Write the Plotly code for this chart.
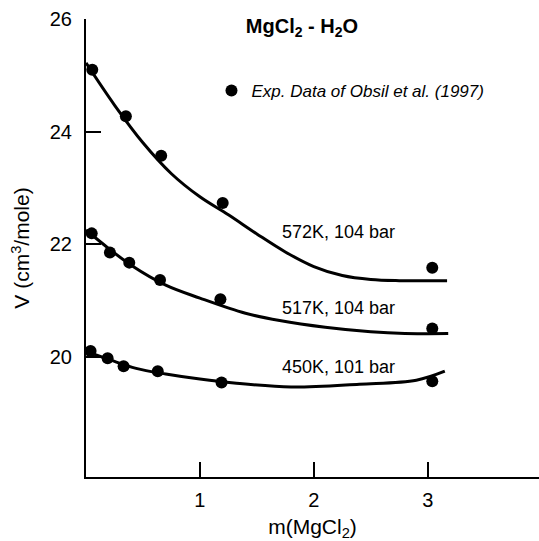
import plotly.graph_objects as go

# Experimental data (Obsil et al. 1997)
m_572 = [0.055, 0.35, 0.66, 1.20, 3.04]
v_572 = [25.10, 24.27, 23.57, 22.73, 21.58]
m_517 = [0.05, 0.21, 0.38, 0.65, 1.18, 3.04]
v_517 = [22.19, 21.85, 21.67, 21.36, 21.02, 20.50]
m_450 = [0.04, 0.19, 0.33, 0.63, 1.19, 3.04]
v_450 = [20.10, 19.97, 19.83, 19.74, 19.54, 19.56]

# Model curves
cm_572 = [0.0, 0.25, 0.5, 0.75, 1.0, 1.25, 1.5, 1.75, 2.0, 2.25, 2.5, 2.75, 3.17]
cv_572 = [25.22, 24.47, 23.80, 23.25, 22.84, 22.52, 22.18, 21.86, 21.60, 21.44, 21.37, 21.35, 21.35]
cm_517 = [0.0, 0.2, 0.4, 0.7, 1.0, 1.4, 1.7, 2.1, 2.5, 2.8, 3.18]
cv_517 = [22.25, 21.92, 21.62, 21.27, 21.04, 20.77, 20.64, 20.52, 20.44, 20.41, 20.41]
cm_450 = [0.0, 0.2, 0.44, 0.7, 1.0, 1.3, 1.8, 2.4, 2.9, 3.15]
cv_450 = [20.09, 19.95, 19.79, 19.69, 19.60, 19.53, 19.46, 19.51, 19.58, 19.74]

curve_labels = ["572K, 104 bar", "517K, 104 bar", "450K, 101 bar"]
label_m = [1.70, 1.70, 1.70]
label_v = [22.22, 20.86, 19.82]

x_ticks = [1, 2, 3]
y_ticks = [20, 22, 24, 26]

FONT = "Liberation Sans, Arial, Helvetica, sans-serif"

fig = go.Figure()
for cm, cv in [(cm_572, cv_572), (cm_517, cv_517), (cm_450, cv_450)]:
    fig.add_trace(go.Scatter(x=cm, y=cv, mode="lines",
                             line=dict(color="black", width=3, shape="spline", smoothing=1),
                             showlegend=False, hoverinfo="skip", cliponaxis=False))

first = True
for mx, vy in [(m_572, v_572), (m_517, v_517), (m_450, v_450)]:
    fig.add_trace(go.Scatter(x=mx, y=vy, mode="markers",
                             marker=dict(color="black", size=12),
                             name="Exp. Data of Obsil et al. (1997)",
                             showlegend=first, cliponaxis=False))
    first = False

for t, xm, yv in zip(curve_labels, label_m, label_v):
    fig.add_annotation(x=xm, y=yv, text=t, showarrow=False, xanchor="left",
                       yanchor="middle", font=dict(size=18, color="black", family=FONT))

fig.update_layout(
    width=539, height=541,
    margin=dict(l=86, r=0, t=19, b=64),
    paper_bgcolor="white", plot_bgcolor="white",
    font=dict(family=FONT, color="black", size=20),
    title=dict(text="<b>MgCl<sub>2</sub> - H<sub>2</sub>O</b>", x=302/539, xref="container",
               xanchor="center", y=1-26/541, yref="container", yanchor="middle",
               font=dict(size=20, family=FONT, color="black")),
    legend=dict(x=0.277, y=0.882, xanchor="left", yanchor="top",
                itemwidth=30,
                font=dict(size=17, style="italic", family=FONT, color="black"),
                bgcolor="rgba(0,0,0,0)"),
    xaxis=dict(range=[0, 3.977], tickvals=x_ticks, ticks="inside", ticklen=15, tickwidth=1.5,
               tickcolor="black", showline=True, linecolor="black", linewidth=2,
               showgrid=False, zeroline=False, ticklabelstandoff=4,
               title=dict(text="m(MgCl<sub>2</sub>)", font=dict(size=21), standoff=10)),
    yaxis=dict(range=[17.86, 26], tickvals=y_ticks, ticks="inside", ticklen=15, tickwidth=1.5,
               tickcolor="black", showline=True, linecolor="black", linewidth=2,
               showgrid=False, zeroline=False, ticklabelstandoff=8,
               title=dict(text="V (cm<sup>3</sup>/mole)", font=dict(size=21), standoff=14)),
)

fig.write_html("out.html", config={"displayModeBar": False},
               post_script="document.body.style.margin='0';document.body.style.padding='0';")
